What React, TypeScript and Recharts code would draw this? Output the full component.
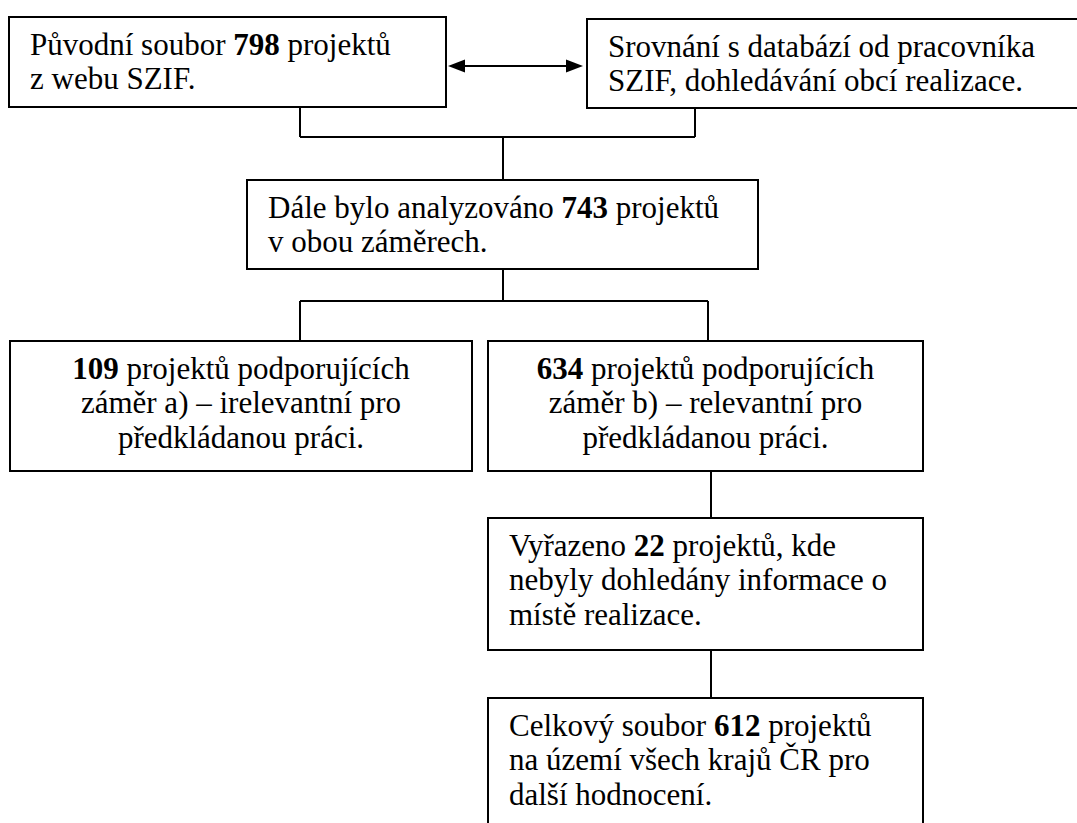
import { ScatterChart, XAxis, YAxis, ReferenceArea, ReferenceLine } from "recharts"

// layout of the flowchart in page units (x to the right, y downwards)
const boxLeft = [9, 587, 247, 10, 488, 488, 488]
const boxRight = [446, 1082, 758, 472, 923, 923, 923]
const boxTop = [17, 19, 180, 341, 341, 518, 698]
const boxBottom = [107, 108, 269, 471, 471, 650, 860]
const boxAlign = ["start", "start", "start", "middle", "middle", "start", "start"]

// **text** = bold part
const boxLines = [
    ["Původní soubor **798** projektů", "z webu SZIF."],
    ["Srovnání s databází od pracovníka", "SZIF, dohledávání obcí realizace."],
    ["Dále bylo analyzováno **743** projektů", "v obou záměrech."],
    ["**109** projektů podporujících", "záměr a) – irelevantní pro", "předkládanou práci."],
    ["**634** projektů podporujících", "záměr b) – relevantní pro", "předkládanou práci."],
    ["Vyřazeno **22** projektů, kde", "nebyly dohledány informace o", "místě realizace."],
    ["Celkový soubor **612** projektů", "na území všech krajů ČR pro", "další hodnocení."],
]

// connectors as polylines
const connectors = [
    [[300, 107], [300, 137], [695, 137], [695, 108]],
    [[503, 137], [503, 180]],
    [[503, 269], [503, 301]],
    [[300, 341], [300, 301], [708, 301], [708, 341]],
    [[711, 471], [711, 518]],
    [[711, 650], [711, 698]],
]

const arrowFrom = [448, 66]
const arrowTo = [583, 66]

const FONT = '"Liberation Serif", "Times New Roman", serif'
const FS = 31
const LINE_H = 34.3

function parts(line: string) {
    return line.split("**").map((t, i) => ({ t, bold: i % 2 === 1 })).filter(p => p.t.length > 0)
}

function BoxText(props: any) {
    const { viewBox, lines, align } = props
    const { x, y, width } = viewBox
    const tx = align === "middle" ? x + width / 2 : x + 21
    return (
        <text x={tx} y={y + 38} textAnchor={align} fontSize={FS} fill="#000" style={{ fontFamily: FONT, whiteSpace: "pre" }}>
            {lines.map((ln: string, i: number) => (
                <tspan key={i} x={tx} dy={i === 0 ? 0 : LINE_H}>
                    {parts(ln).map((p, j) => (
                        <tspan key={j} fontWeight={p.bold ? 700 : 400}>{p.t}</tspan>
                    ))}
                </tspan>
            ))}
        </text>
    )
}

function DoubleArrow(props: any) {
    const { x1, y1, x2, y2 } = props
    const len = 17
    const hw = 6.5
    return (
        <g>
            <line x1={x1 + len - 2} y1={y1} x2={x2 - len + 2} y2={y2} stroke="#000" strokeWidth={2} />
            <polygon points={`${x1},${y1} ${x1 + len},${y1 - hw} ${x1 + len},${y1 + hw}`} fill="#000" />
            <polygon points={`${x2},${y2} ${x2 - len},${y2 - hw} ${x2 - len},${y2 + hw}`} fill="#000" />
        </g>
    )
}

const segments = connectors.flatMap(pl => pl.slice(1).map((p, i) => [pl[i], p]))

export default function App() {
    return (
        <div style={{ position: "absolute", left: 0, top: 0, width: 1077, height: 823, background: "#fff", overflow: "hidden" }}>
            <ScatterChart width={1077} height={823} margin={{ top: 0, right: 0, bottom: 0, left: 0 }}>
                <XAxis type="number" dataKey="x" domain={[0, 1077]} allowDataOverflow hide />
                <YAxis type="number" dataKey="y" domain={[0, 823]} allowDataOverflow reversed hide />
                {segments.map((s, i) => (
                    <ReferenceLine
                        key={"c" + i}
                        segment={[{ x: s[0][0], y: s[0][1] }, { x: s[1][0], y: s[1][1] }]}
                        stroke="#000"
                        strokeWidth={2}
                        ifOverflow="visible"
                    />
                ))}
                <ReferenceLine
                    segment={[{ x: arrowFrom[0], y: arrowFrom[1] }, { x: arrowTo[0], y: arrowTo[1] }]}
                    ifOverflow="visible"
                    shape={(p: any) => <DoubleArrow {...p} />}
                />
                {boxLines.map((lines, i) => (
                    <ReferenceArea
                        key={"b" + i}
                        x1={boxLeft[i]}
                        x2={boxRight[i]}
                        y1={boxTop[i]}
                        y2={boxBottom[i]}
                        fill="#fff"
                        fillOpacity={1}
                        stroke="#000"
                        strokeWidth={2}
                        ifOverflow="visible"
                        label={(p: any) => <BoxText {...p} lines={lines} align={boxAlign[i]} />}
                    />
                ))}
            </ScatterChart>
        </div>
    )
}
